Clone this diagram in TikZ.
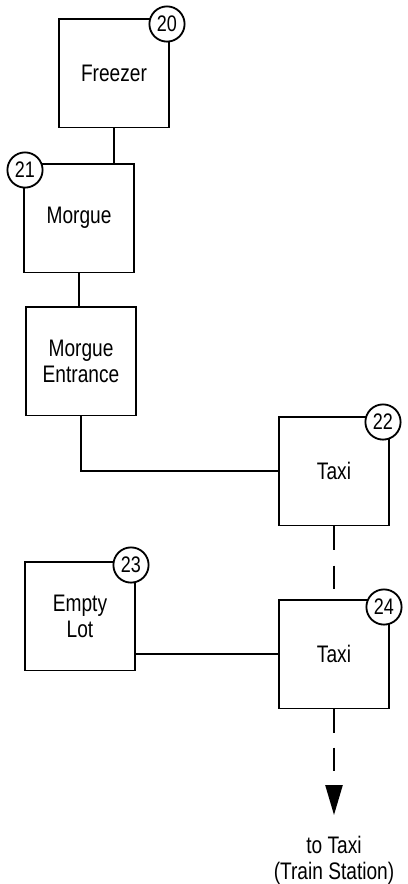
\documentclass[tikz,border=0pt]{standalone}
\usepackage{fontspec}
\setmainfont{Liberation Sans}[FakeStretch=0.8]
\usepackage{tikz}
\usetikzlibrary{arrows.meta,positioning}

\begin{document}
\begin{tikzpicture}[x=0.025cm, y=-0.025cm, line width=1.3pt,
    room/.style={rectangle, draw, fill=white, minimum width=2.75cm, minimum height=2.72cm,
        align=center, font=\fontsize{17}{18.5}\selectfont},
    num/.style={circle, draw, fill=white, minimum size=0.88cm, inner sep=0pt,
        font=\fontsize{16}{17}\selectfont}]
    \useasboundingbox (0,0) rectangle (408,884);

    % Rooms
    \node[room] (freezer) at (114,73) {Freezer};
    \node[room] (morgue) at (79,218) {Morgue};
    \node[room] (entrance) at (81,361) {Morgue\\Entrance};
    \node[room] (taxia) at (334,471) {Taxi};
    \node[room] (lot) at (80,616) {Empty\\Lot};
    \node[room] (taxib) at (334,654) {Taxi};

    % Connections
    \draw (freezer.south) -- (freezer.south |- morgue.north);
    \draw (morgue.south) -- (morgue.south |- entrance.north);
    \draw (entrance.south) |- (taxia.west);
    \draw[dash pattern=on 0.58cm off 0.4cm] (taxia.south) -- (taxib.north);
    \draw (taxib.west -| lot.east) -- (taxib.west);
    \coordinate (station) at (334,815);
    \draw[dash pattern=on 0.58cm off 0.38cm, -{Triangle[length=0.75cm, width=0.43cm]}]
        (taxib.south) -- (station);
    \node[below=0.4cm of station, align=center, font=\fontsize{17}{18.5}\selectfont] (totaxi)
        {to Taxi\\(Train Station)};

    % Numbers
    \node[num] (n20) at (167,24) {20};
    \node[num] (n21) at (25,170) {21};
    \node[num] (n22) at (383,422) {22};
    \node[num] (n23) at (131,565) {23};
    \node[num] (n24) at (384,607) {24};
\end{tikzpicture}
\end{document}
